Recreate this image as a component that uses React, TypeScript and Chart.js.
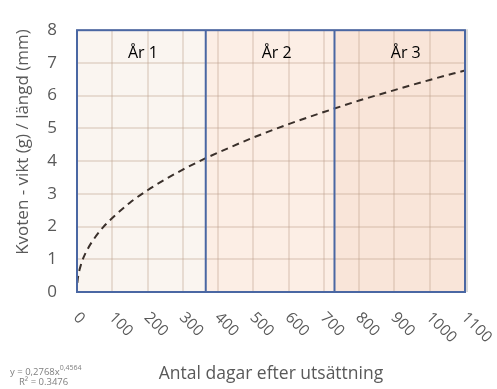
import { useEffect, useRef } from 'react';
import { Chart, registerables } from 'chart.js';

Chart.register(...registerables);

// Days after release and the fitted ratio weight (g) / length (mm)
const days = [1, 3, 6, 10, 18, 30, 50, 75, 100, 150, 200, 250, 300, 365, 400, 500, 600, 700, 800, 900, 1000, 1100];
const ratio = [0.28, 0.46, 0.63, 0.79, 1.04, 1.31, 1.65, 1.99, 2.26, 2.73, 3.11, 3.44, 3.74, 4.09, 4.26, 4.72, 5.13, 5.5, 5.85, 6.17, 6.48, 6.77];

const xTickValues = [0, 100, 200, 300, 400, 500, 600, 700, 800, 900, 1000, 1100];
const yTickValues = [0, 1, 2, 3, 4, 5, 6, 7, 8];

// Year periods
const yearBounds = [0, 365, 730, 1100];
const yearLabels = ['År 1', 'År 2', 'År 3'];
const yearLabelDays = [187, 566, 932];
const yearLabelLevel = 7.3;
const yearColors = ['#FAF5F0', '#FCEEE5', '#F9E5D9'];

const xTitle = 'Antal dagar efter utsättning';
const yTitle = 'Kvoten - vikt (g) / längd (mm)';
const eqBase = 'y = 0,2768x';
const eqExp = '0,4564';
const rSquared = 'R² = 0.3476';

const FONT = '"Open Sans", "Noto Sans", sans-serif';
const GREY = '#595959';
const BLUE = '#4A67A3';

const decorations = {
  id: 'decorations',
  beforeDraw(chart: any) {
    const { ctx, chartArea, scales } = chart;
    const x = scales.x;
    ctx.save();
    for (let i = 0; i < yearColors.length; i++) {
      const x0 = x.getPixelForValue(yearBounds[i]);
      const x1 = x.getPixelForValue(yearBounds[i + 1]);
      ctx.fillStyle = yearColors[i];
      ctx.fillRect(x0, chartArea.top, x1 - x0, chartArea.bottom - chartArea.top);
    }
    ctx.restore();
  },
  afterDatasetsDraw(chart: any) {
    const { ctx, chartArea, scales } = chart;
    const x = scales.x;
    const y = scales.y;
    const { left, right, top, bottom } = chartArea;
    ctx.save();
    // soft shadow on the right edge
    ctx.strokeStyle = '#D9D9D9';
    ctx.lineWidth = 2;
    ctx.beginPath();
    ctx.moveTo(right + 2, top - 1);
    ctx.lineTo(right + 2, bottom);
    ctx.stroke();
    // year separators
    ctx.strokeStyle = BLUE;
    ctx.lineWidth = 2;
    for (let i = 1; i < yearBounds.length - 1; i++) {
      const px = x.getPixelForValue(yearBounds[i]);
      ctx.beginPath();
      ctx.moveTo(px, top);
      ctx.lineTo(px, bottom);
      ctx.stroke();
    }
    // plot frame
    ctx.strokeRect(left, top, right - left, bottom - top);
    // year labels
    ctx.fillStyle = '#000000';
    ctx.font = `16px ${FONT}`;
    ctx.textAlign = 'center';
    ctx.textBaseline = 'middle';
    yearLabels.forEach((t, i) => {
      ctx.fillText(t, x.getPixelForValue(yearLabelDays[i]), y.getPixelForValue(yearLabelLevel));
    });
    ctx.restore();
  },
  afterDraw(chart: any) {
    const { ctx, chartArea, scales } = chart;
    const x = scales.x;
    ctx.save();
    // rotated x tick labels
    ctx.fillStyle = GREY;
    ctx.font = `15.5px ${FONT}`;
    ctx.textAlign = 'left';
    ctx.textBaseline = 'middle';
    xTickValues.forEach((v) => {
      ctx.save();
      ctx.translate(x.getPixelForValue(v) - 1, chartArea.bottom + 23);
      ctx.rotate(Math.PI / 4);
      ctx.fillText(String(v), 0, 0);
      ctx.restore();
    });
    // y axis title
    ctx.save();
    ctx.translate(23, 142);
    ctx.rotate(-Math.PI / 2);
    ctx.font = `17px ${FONT}`;
    ctx.textAlign = 'center';
    ctx.fillText(yTitle, 0, 0);
    ctx.restore();
    // trendline equation
    ctx.fillStyle = '#7F7F7F';
    ctx.font = `9.5px ${FONT}`;
    ctx.textAlign = 'left';
    ctx.fillText(eqBase, 10, 372);
    const w = ctx.measureText(eqBase).width;
    ctx.font = `7px ${FONT}`;
    ctx.fillText(eqExp, 10 + w, 368);
    ctx.font = `9.5px ${FONT}`;
    ctx.fillText(rSquared, 19, 382);
    ctx.restore();
  },
};

export default function App() {
  const canvasRef = useRef<HTMLCanvasElement | null>(null);

  useEffect(() => {
    document.body.style.margin = '0';
    const canvas = canvasRef.current;
    if (!canvas) return;
    const chart = new Chart(canvas, {
      type: 'line',
      data: {
        datasets: [
          {
            data: days.map((d, i) => ({ x: d, y: ratio[i] })),
            borderColor: '#3A302B',
            borderWidth: 2,
            borderDash: [7, 5],
            pointRadius: 0,
            fill: false,
            cubicInterpolationMode: 'monotone',
          },
        ],
      },
      options: {
        animation: false,
        responsive: false,
        devicePixelRatio: 1,
        layout: { padding: { left: 0, top: 22, right: 32, bottom: 0 } },
        plugins: { legend: { display: false }, tooltip: { enabled: false } },
        scales: {
          x: {
            type: 'linear',
            min: 0,
            max: 1100,
            afterBuildTicks: (s: any) => {
              s.ticks = xTickValues.map((v) => ({ value: v }));
            },
            afterFit: (s: any) => {
              s.height = 97;
            },
            ticks: { display: false },
            grid: { color: 'rgba(190,160,140,0.3)', lineWidth: 2, drawTicks: false },
            border: { display: false },
            title: {
              display: true,
              text: xTitle,
              color: GREY,
              font: { family: FONT, size: 17.5 },
              padding: { top: 0, bottom: 4 },
            },
          },
          y: {
            min: 0,
            max: 8,
            afterBuildTicks: (s: any) => {
              s.ticks = yTickValues.map((v) => ({ value: v }));
            },
            afterFit: (s: any) => {
              s.width = 77;
            },
            ticks: { color: GREY, font: { family: FONT, size: 17 }, padding: 20 },
            grid: { color: 'rgba(190,160,140,0.3)', lineWidth: 2, drawTicks: false },
            border: { display: false },
          },
        },
      },
      plugins: [decorations],
    } as any);
    return () => chart.destroy();
  }, []);

  return (
    <div style={{ width: 497, height: 389 }}>
      <canvas ref={canvasRef} width={497} height={389} style={{ display: 'block' }} />
    </div>
  );
}
